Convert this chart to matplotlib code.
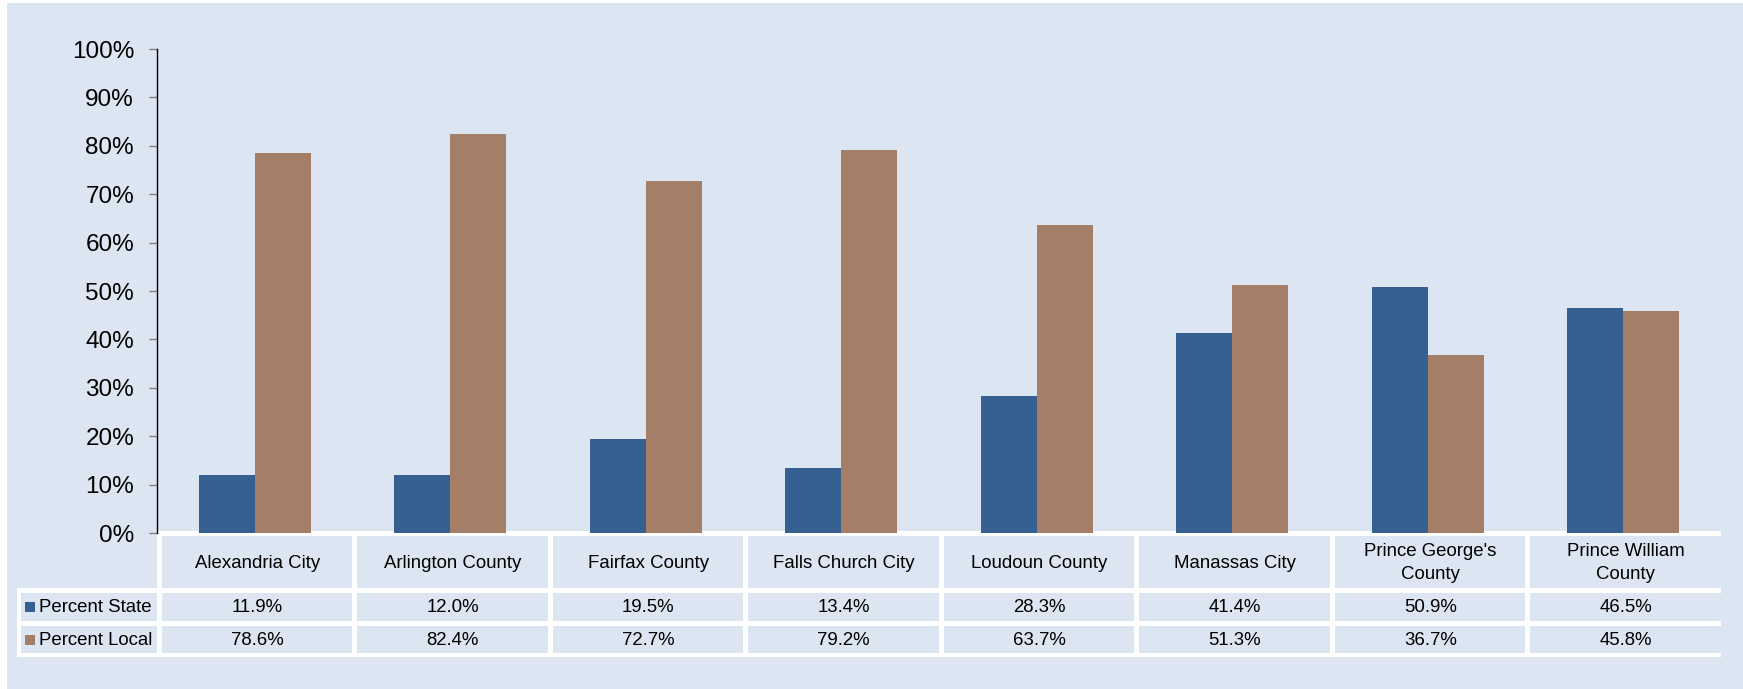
import matplotlib
matplotlib.use('Agg')
import matplotlib.pyplot as plt
from matplotlib.patches import Rectangle
import numpy as np

plt.rcParams['font.family'] = ['Liberation Sans', 'DejaVu Sans']

# data
counties = ['Alexandria City', 'Arlington County', 'Fairfax County', 'Falls Church City',
            'Loudoun County', 'Manassas City', "Prince George's\nCounty", 'Prince William\nCounty']
pct_state = [11.9, 12.0, 19.5, 13.4, 28.3, 41.4, 50.9, 46.5]
pct_local = [78.6, 82.4, 72.7, 79.2, 63.7, 51.3, 36.7, 45.8]
series_names = ['Percent State', 'Percent Local']
yticks = [0, 10, 20, 30, 40, 50, 60, 70, 80, 90, 100]

BG = '#DCE6F2'
BLUE = '#376092'
BROWN = '#A47E67'
W, H = 1743, 689

fig = plt.figure(figsize=(W / 100, H / 100), dpi=100, facecolor='white')

# overlay axes in pixel coordinates for background and table
lay = fig.add_axes([0, 0, 1, 1], zorder=0)
lay.set_xlim(0, W)
lay.set_ylim(H, 0)
lay.axis('off')
lay.add_patch(Rectangle((7, 3), W - 7, H - 3, facecolor=BG, edgecolor='none'))

# plot area
x0, x1 = 157, 1721
y_top, y_bot = 49, 533
ax = fig.add_axes([x0 / W, 1 - y_bot / H, (x1 - x0) / W, (y_bot - y_top) / H], zorder=1)
ax.patch.set_alpha(0)
x = np.arange(len(counties))
bw = 0.286
ax.bar(x - bw / 2, pct_state, bw, color=BLUE, label=series_names[0])
ax.bar(x + bw / 2, pct_local, bw, color=BROWN, label=series_names[1])
ax.set_xlim(-0.5, len(counties) - 0.5)
ax.set_ylim(0, 100)
ax.set_yticks(yticks)
ax.set_yticklabels([f'{t}%' for t in yticks], fontsize=17.5)
ax.set_xticks([])
for s in ['top', 'right', 'bottom']:
    ax.spines[s].set_visible(False)
ax.spines['left'].set_color('black')
ax.spines['left'].set_linewidth(1.0)
ax.tick_params(axis='y', length=6, width=1, color='#808080', pad=10.5)

# table
pitch = (x1 - x0) / len(counties)
gap = 5
# white blocks behind the cells
lay.add_patch(Rectangle((x0, 531), x1 - x0, 62, facecolor='white', edgecolor='none', zorder=2))
lay.add_patch(Rectangle((17, 588), x1 - 17, 69, facecolor='white', edgecolor='none', zorder=2))
cell_rows = [(536, 588), (593, 621), (626, 653)]
for r, (ya, yb) in enumerate(cell_rows):
    for c in range(len(counties)):
        cx = x0 + c * pitch + gap
        lay.add_patch(Rectangle((cx, ya), pitch - gap, yb - ya, facecolor=BG,
                                edgecolor='none', zorder=3))
        if r == 0:
            txt = counties[c]
        elif r == 1:
            txt = f'{pct_state[c]:.1f}%'
        else:
            txt = f'{pct_local[c]:.1f}%'
        lay.text(cx + (pitch - gap) / 2, (ya + yb) / 2 + 1, txt, ha='center', va='center',
                 fontsize=13.4, zorder=4, linespacing=1.4)
    if r > 0:
        lay.add_patch(Rectangle((21, ya), x0 - 21, yb - ya, facecolor=BG,
                                edgecolor='none', zorder=3))
        col = BLUE if r == 1 else BROWN
        lay.add_patch(Rectangle((25, (ya + yb) / 2 - 5), 10, 10, facecolor=col,
                                edgecolor='none', zorder=4))
        lay.text(39, (ya + yb) / 2 + 1, series_names[r - 1], ha='left', va='center',
                 fontsize=13.4, zorder=4)

fig.savefig('out.png', dpi=100, facecolor='white')
